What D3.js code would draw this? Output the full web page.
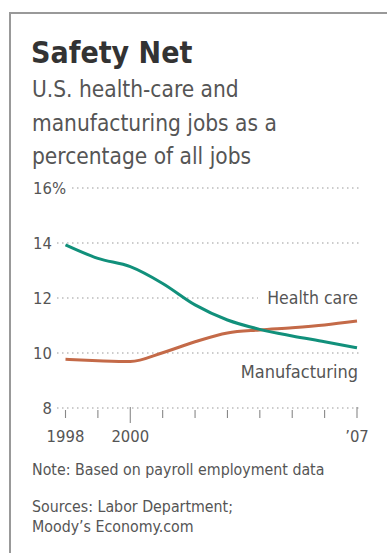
<!DOCTYPE html>
<html>
<head>
<meta charset="utf-8">
<script src="https://cdn.jsdelivr.net/npm/d3@7"></script>
<style>
  html, body { margin: 0; padding: 0; background: #fff; }
  svg { display: block; }
  text { font-family: "DejaVu Sans Condensed", "DejaVu Sans", sans-serif; font-stretch: condensed; }
</style>
</head>
<body>
<div id="chart"></div>
<script>
// data
const years = [1998, 1999, 2000, 2001, 2002, 2003, 2004, 2005, 2006, 2007];
const manufacturing = [13.93, 13.44, 13.14, 12.53, 11.75, 11.2, 10.86, 10.62, 10.41, 10.19];
const healthCare = [9.77, 9.72, 9.69, 10.01, 10.41, 10.73, 10.84, 10.92, 11.02, 11.16];
const yTicks = [8, 10, 12, 14, 16];
const xLabels = { 1998: "1998", 2000: "2000", 2007: "\u201907" };

const width = 387, height = 553;

const svg = d3.select("#chart").append("svg")
  .attr("width", width)
  .attr("height", height);

// frame
svg.append("path")
  .attr("d", "M10,553 V13 H387")
  .attr("fill", "none")
  .attr("stroke", "#999")
  .attr("stroke-width", 2);

// titles
svg.append("text")
  .attr("x", 31).attr("y", 63)
  .attr("font-size", 30).attr("font-weight", "bold")
  .attr("fill", "#333")
  .text("Safety Net");

const sub = ["U.S. health-care and", "manufacturing jobs as a", "percentage of all jobs"];
svg.selectAll(".sub").data(sub).enter().append("text")
  .attr("class", "sub")
  .attr("x", 32).attr("y", (d, i) => 97 + i * 33.5)
  .attr("font-size", 22.5).attr("fill", "#555")
  .text(d => d);

// scales
const x = d3.scaleLinear().domain([1998, 2007]).range([65.5, 357]);
const y = d3.scaleLinear().domain([8, 16]).range([408, 188]);

// grid lines
const gridStart = { 16: 72, 14: 57, 12: 57, 10: 57, 8: 57 };
const gridEnd = { 16: 359, 14: 359, 12: 258, 10: 359, 8: 359 };
svg.selectAll(".grid").data(yTicks).enter().append("line")
  .attr("class", "grid")
  .attr("x1", d => gridStart[d]).attr("x2", d => gridEnd[d])
  .attr("y1", d => y(d)).attr("y2", d => y(d))
  .attr("stroke", "#999").attr("stroke-width", 1)
  .attr("stroke-dasharray", "1.5,3.5");

// y labels
svg.selectAll(".ylab").data(yTicks).enter().append("text")
  .attr("class", "ylab")
  .attr("x", 52).attr("y", d => y(d) + 6)
  .attr("text-anchor", "end")
  .attr("font-size", 16.5).attr("fill", "#555")
  .text(d => d);
svg.append("text")
  .attr("x", 52).attr("y", y(16) + 6)
  .attr("font-size", 16.5).attr("fill", "#555")
  .text("%");

// x ticks
svg.selectAll(".xtick").data(years).enter().append("line")
  .attr("class", "xtick")
  .attr("x1", d => x(d)).attr("x2", d => x(d))
  .attr("y1", d => (d === 2000 || d === 2007) ? 407 : 410)
  .attr("y2", d => d === 2000 ? 423 : 418)
  .attr("stroke", "#888").attr("stroke-width", 1.1);

svg.selectAll(".xlab").data(Object.keys(xLabels).map(Number)).enter().append("text")
  .attr("class", "xlab")
  .attr("x", d => x(d)).attr("y", 442)
  .attr("text-anchor", "middle")
  .attr("font-size", 16.5).attr("fill", "#555")
  .text(d => xLabels[d]);

// lines
const line = d3.line()
  .x((d, i) => x(years[i]))
  .y(d => y(d))
  .curve(d3.curveMonotoneX);

svg.append("path")
  .attr("d", line(healthCare))
  .attr("fill", "none").attr("stroke", "#c46a48")
  .attr("stroke-width", 3);

svg.append("path")
  .attr("d", line(manufacturing))
  .attr("fill", "none").attr("stroke", "#11907b")
  .attr("stroke-width", 3);

// series labels
svg.append("text")
  .attr("x", 358).attr("y", 304)
  .attr("text-anchor", "end")
  .attr("font-size", 17.5).attr("fill", "#555")
  .text("Health care");
svg.append("text")
  .attr("x", 358).attr("y", 378)
  .attr("text-anchor", "end")
  .attr("font-size", 18).attr("fill", "#555")
  .text("Manufacturing");

// notes
const notes = [
  { t: "Note: Based on payroll employment data", y: 475 },
  { t: "Sources: Labor Department;", y: 512 },
  { t: "Moody\u2019s Economy.com", y: 532 }
];
svg.selectAll(".note").data(notes).enter().append("text")
  .attr("class", "note")
  .attr("x", 32).attr("y", d => d.y)
  .attr("font-size", 15.8).attr("fill", "#555")
  .text(d => d.t);
</script>
</body>
</html>
